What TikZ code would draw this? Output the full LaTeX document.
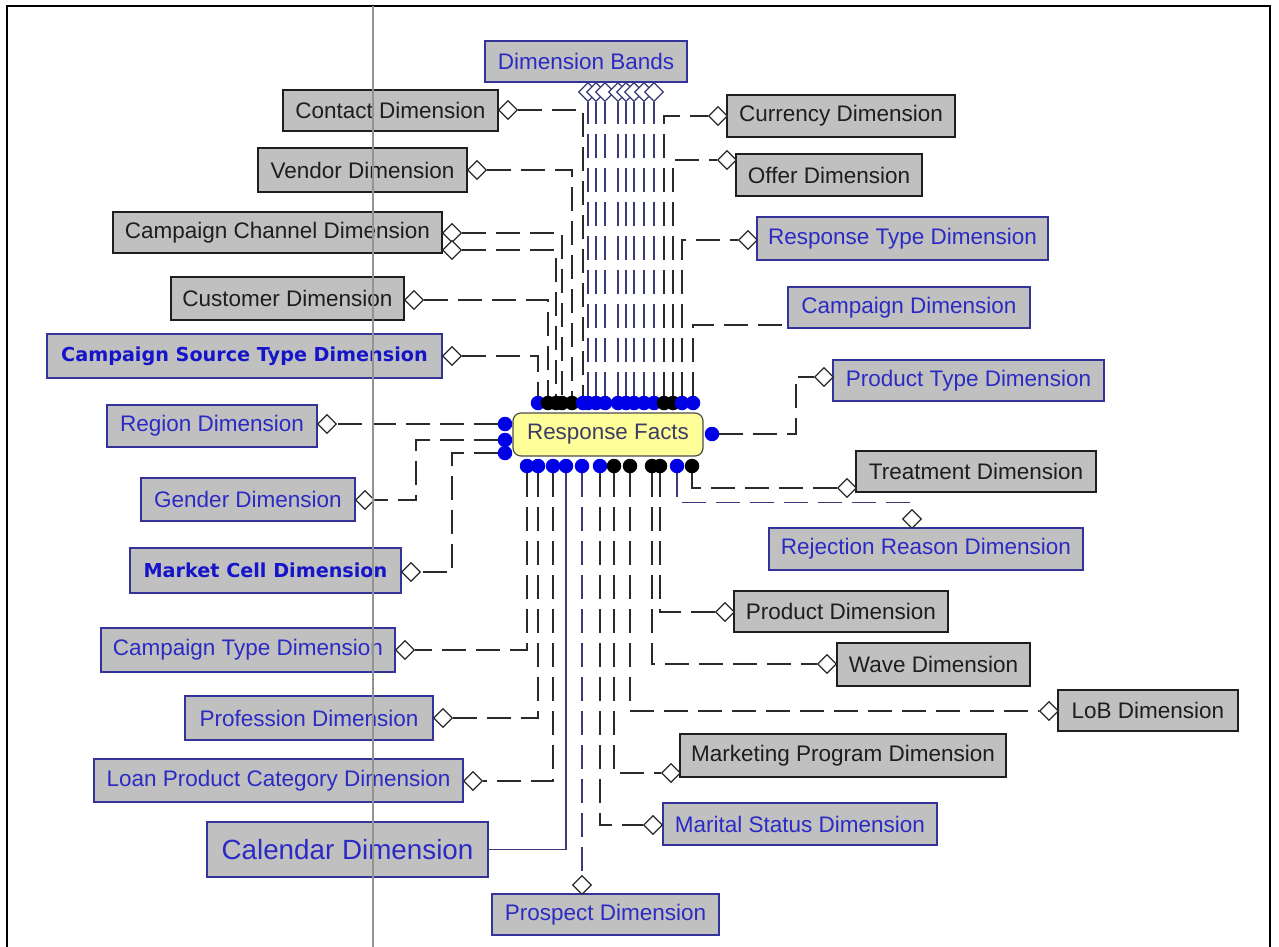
\documentclass[tikz,border=0pt]{standalone}
\usepackage{fontspec}
\setmainfont{Liberation Sans}
\newfontfamily\dvfont{DejaVu Sans}
\usetikzlibrary{shapes.geometric}
\pgfdeclarelayer{background}
\pgfsetlayers{background,main}
\definecolor{boxgray}{HTML}{C0C0C0}
\definecolor{navyb}{HTML}{33339A}
\definecolor{bluet}{HTML}{2B2BC4}
\definecolor{boldblue}{HTML}{1414C8}
\definecolor{blackt}{HTML}{1E1E1E}
\definecolor{connk}{HTML}{2A2A2A}
\definecolor{connb}{HTML}{3A3A78}
\definecolor{dotblue}{HTML}{0000E6}
\definecolor{factfill}{HTML}{FFFF99}
\definecolor{factt}{HTML}{3C3C64}
\tikzset{
  kbox/.style={draw=blackt, fill=boxgray, line width=1.4pt, inner sep=0pt, text=blackt, font=\fontsize{22.5}{27}\selectfont},
  bbox/.style={kbox, draw=navyb, text=bluet},
  boldbox/.style={bbox, text=boldblue, font=\dvfont\bfseries\fontsize{19.2}{23}\selectfont},
  dia/.style={diamond, draw=connk, fill=white, line width=1.2pt, minimum width=19pt, minimum height=19pt, inner sep=0pt, shape aspect=1},
  bdot/.style={circle, fill=dotblue, minimum size=14.5pt, inner sep=0pt},
  kdot/.style={bdot, fill=black},
  conn/.style={draw=connk, line width=1.4pt, dash pattern=on 24pt off 10pt},
  nconn/.style={conn, draw=connb},
}
\begin{document}
\begin{tikzpicture}[x=1pt,y=-1pt]
\useasboundingbox (0,0) rectangle (1279,947);
% frame
\draw[black, line width=2pt] (7,947) -- (7,6) -- (1270,6) -- (1270,947);

% central fact
\node[draw=black!70, fill=factfill, rounded corners=8pt, line width=1.2pt, minimum width=190pt, minimum height=43pt, inner sep=0pt, text=factt, font=\fontsize{22.4}{27}\selectfont] (facts) at (608,434.5) {Response Facts};

% dimension boxes
\node[bbox, minimum width=202pt, minimum height=41pt] (bands) at (586,61.5) {Dimension Bands};
\node[kbox, minimum width=215pt, minimum height=41pt] (contact) at (390.5,110.5) {Contact Dimension};
\node[kbox, minimum width=209pt, minimum height=44pt] (vendor) at (362.5,170) {Vendor Dimension};
\node[kbox, minimum width=329pt, minimum height=41pt] (cchan) at (277.5,232.5) {Campaign Channel Dimension};
\node[kbox, minimum width=233pt, minimum height=43pt] (customer) at (287.5,298.5) {Customer Dimension};
\node[boldbox, minimum width=395pt, minimum height=44pt] (cst) at (244.5,356) {Campaign Source Type Dimension};
\node[bbox, minimum width=210pt, minimum height=42pt] (region) at (212,426) {Region Dimension};
\node[bbox, minimum width=214pt, minimum height=43pt] (gender) at (248,499.5) {Gender Dimension};
\node[boldbox, minimum width=271pt, minimum height=45pt] (market) at (265.5,570.5) {Market Cell Dimension};
\node[bbox, minimum width=294pt, minimum height=44pt] (camptype) at (248,650) {Campaign Type Dimension};
\node[bbox, minimum width=248pt, minimum height=44pt] (profession) at (309,718) {Profession Dimension};
\node[bbox, minimum width=369pt, minimum height=43pt] (loan) at (278.5,780.5) {Loan Product Category Dimension};
\node[bbox, minimum width=281pt, minimum height=55pt, font=\fontsize{27.8}{32}\selectfont] (calendar) at (347.5,849.5) {Calendar Dimension};
\node[bbox, minimum width=227pt, minimum height=41pt] (prospect) at (605.5,914.5) {Prospect Dimension};
\node[bbox, minimum width=274pt, minimum height=42pt] (marital) at (800,824) {Marital Status Dimension};
\node[kbox, minimum width=326pt, minimum height=43pt] (mprog) at (843,755.5) {Marketing Program Dimension};
\node[kbox, minimum width=180pt, minimum height=41pt] (lob) at (1148,710.5) {LoB Dimension};
\node[kbox, minimum width=193pt, minimum height=43pt] (wave) at (933.5,664.5) {Wave Dimension};
\node[kbox, minimum width=214pt, minimum height=41pt] (product) at (841,611.5) {Product Dimension};
\node[bbox, minimum width=314pt, minimum height=42pt] (reject) at (926,549) {Rejection Reason Dimension};
\node[kbox, minimum width=240pt, minimum height=41pt] (treat) at (976,471.5) {Treatment Dimension};
\node[bbox, minimum width=271pt, minimum height=41pt] (ptype) at (968.5,380.5) {Product Type Dimension};
\node[bbox, minimum width=242pt, minimum height=41pt] (campaign) at (909,307.5) {Campaign Dimension};
\node[bbox, minimum width=291pt, minimum height=43pt] (rtype) at (902.5,238.5) {Response Type Dimension};
\node[kbox, minimum width=186pt, minimum height=42pt] (offer) at (829,175) {Offer Dimension};
\node[kbox, minimum width=228pt, minimum height=42pt] (currency) at (841,116) {Currency Dimension};

% diamonds
\node[dia] (contactd) at (508,110) {};
\node[dia] (vendord) at (477,170) {};
\node[dia] (cc1d) at (452,233) {};
\node[dia] (cc2d) at (452,250) {};
\node[dia] (custd) at (414,300) {};
\node[dia] (cstd) at (452,356) {};
\node[dia] (regiond) at (327,424) {};
\node[dia] (genderd) at (365,500) {};
\node[dia] (marketd) at (411,572) {};
\node[dia] (ctd) at (405,650) {};
\node[dia] (profd) at (443,718) {};
\node[dia] (loand) at (473,781) {};
\node[dia] (prosd) at (582,885) {};
\node[dia] (marid) at (653,825) {};
\node[dia] (mpd) at (671,773) {};
\node[dia] (lobd) at (1049,711) {};
\node[dia] (waved) at (827,664) {};
\node[dia] (prodd) at (725,612) {};
\node[dia] (rejd) at (912,519) {};
\node[dia] (treatd) at (847,488) {};
\node[dia] (ptd) at (824,377) {};
\node[dia] (rtd) at (748,240) {};
\node[dia] (offerd) at (727,160) {};
\node[dia] (currd) at (718,116) {};
\foreach \i/\x in {1/588,2/596,3/605,4/618,5/626,6/634,7/644,8/654}
  \node[dia, draw=connb] (bd\i) at (\x,92) {};

% dots top
\node[bdot] (t1) at (538,403) {};
\node[kdot] (t2) at (548,403) {};
\node[kdot] (t3) at (556,403) {};
\node[kdot] (t4) at (562,403) {};
\node[kdot] (t5) at (572,403) {};
\node[bdot] (t6) at (583,403) {};
\foreach \i/\x in {1/588,2/596,3/605,4/618,5/626,6/634,7/644,8/654}
  \node[bdot] (tb\i) at (\x,403) {};
\node[kdot] (t15) at (664,403) {};
\node[kdot] (t16) at (673,403) {};
\node[bdot] (t17) at (682,403) {};
\node[bdot] (t18) at (693,403) {};
% dots bottom
\node[bdot] (b1) at (527,466) {};
\node[bdot] (b2) at (538,466) {};
\node[bdot] (b3) at (553,466) {};
\node[bdot] (b4) at (566,466) {};
\node[bdot] (b5) at (582,466) {};
\node[bdot] (b6) at (600,466) {};
\node[kdot] (b7) at (614,466) {};
\node[kdot] (b8) at (630,466) {};
\node[kdot] (b9) at (652,466) {};
\node[kdot] (b10) at (660,466) {};
\node[bdot] (b11) at (677,466) {};
\node[kdot] (b12) at (692,466) {};
% dots left / right
\node[bdot] (l1) at (505,424) {};
\node[bdot] (l2) at (505,440) {};
\node[bdot] (l3) at (505,453) {};
\node[bdot] (r1) at (712,434) {};

\begin{pgfonlayer}{background}
\draw[conn] (contactd.east) -| (t6.north);
\draw[conn] (vendord.east) -| (t5.north);
\draw[conn] (cc1d.east) -| (t4.north);
\draw[conn] (cc2d.east) -| (t3.north);
\draw[conn] (custd.east) -| (t2.north);
\draw[conn] (cstd.east) -| (t1.north);
\foreach \i in {1,...,8}
  \draw[nconn] (tb\i.north) -- (bd\i.south);
\draw[conn] (t15.north) |- (currd.west);
\draw[conn] (t16.north) |- (offerd.west);
\draw[conn] (t17.north) |- (rtd.west);
\draw[conn] (t18.north) |- ([yshift=-17.5pt]campaign.west);
\draw[conn] (l1.west) -- (regiond.east);
\draw[conn] (l2.west) -| ([xshift=41pt]genderd.east) -- (genderd.east);
\draw[conn] (l3.west) -| ([xshift=31pt]marketd.east) -- (marketd.east);
\draw[conn] (r1.east) -| ([xshift=-18pt]ptd.west) -- (ptd.west);
\draw[conn] (b1.south) |- (ctd.east);
\draw[conn] (b2.south) |- (profd.east);
\draw[conn] (b3.south) |- (loand.east);
\draw[draw=connb, line width=1.4pt] (b4.south) |- (calendar.east);
\draw[nconn] (b5.south) -- (prosd.north);
\draw[conn] (b6.south) |- (marid.west);
\draw[conn] (b7.south) |- (mpd.west);
\draw[conn] (b8.south) |- (lobd.west);
\draw[conn] (b9.south) |- (waved.west);
\draw[conn] (b10.south) |- (prodd.west);
\draw[nconn] (b11.south) |- ([yshift=6.5pt]rejd.north) -- (rejd.north);
\draw[conn] (b12.south) |- (treatd.west);
\end{pgfonlayer}

% gray vertical guide
\draw[gray!85, line width=1.4pt] (373,6) -- (373,947);
\end{tikzpicture}
\end{document}
